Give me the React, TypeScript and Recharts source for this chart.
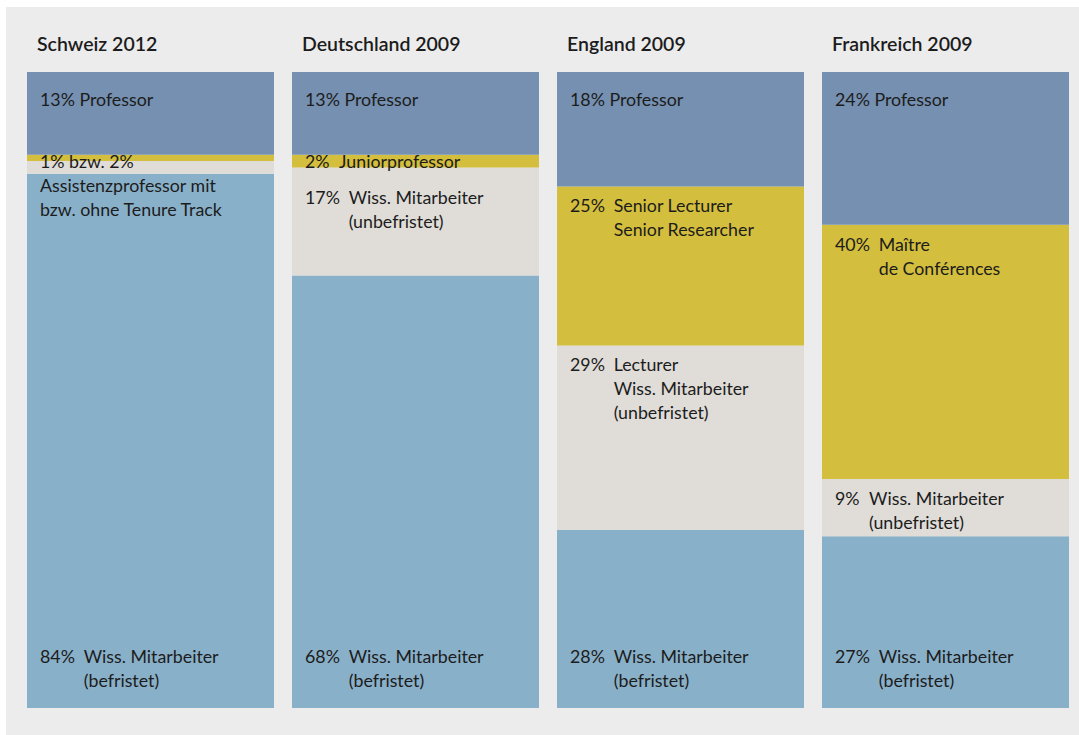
import React from 'react';
import { BarChart, Bar, XAxis, YAxis, LabelList } from 'recharts';

const countries = ['Schweiz 2012', 'Deutschland 2009', 'England 2009', 'Frankreich 2009'];

// shares in percent, stacked bottom -> top: temporary, permanent, middle, professor
const professor = [13, 13, 18, 24];
const middle = [1, 2, 25, 40];
const permanent = [2, 17, 29, 9];
const temporary = [84, 68, 28, 27];

type Lbl = { pct: string; lines: string[]; flush?: boolean } | null;

const professorLabels: Lbl[] = [
  { pct: '13% Professor', lines: [], flush: true },
  { pct: '13% Professor', lines: [], flush: true },
  { pct: '18% Professor', lines: [], flush: true },
  { pct: '24% Professor', lines: [], flush: true },
];
const middleLabels: Lbl[] = [
  { pct: '1% bzw. 2%', lines: ['Assistenzprofessor mit', 'bzw. ohne Tenure Track'], flush: true },
  { pct: '2%', lines: ['Juniorprofessor'] },
  { pct: '25%', lines: ['Senior Lecturer', 'Senior Researcher'] },
  { pct: '40%', lines: ['Maître', 'de Conférences'] },
];
const permanentLabels: Lbl[] = [
  null,
  { pct: '17%', lines: ['Wiss. Mitarbeiter', '(unbefristet)'] },
  { pct: '29%', lines: ['Lecturer', 'Wiss. Mitarbeiter', '(unbefristet)'] },
  { pct: '9%', lines: ['Wiss. Mitarbeiter', '(unbefristet)'] },
];
const temporaryLabels: Lbl[] = [
  { pct: '84%', lines: ['Wiss. Mitarbeiter', '(befristet)'] },
  { pct: '68%', lines: ['Wiss. Mitarbeiter', '(befristet)'] },
  { pct: '28%', lines: ['Wiss. Mitarbeiter', '(befristet)'] },
  { pct: '27%', lines: ['Wiss. Mitarbeiter', '(befristet)'] },
];

const data = countries.map((name, i) => ({
  name,
  professor: professor[i],
  middle: middle[i],
  permanent: permanent[i],
  temporary: temporary[i],
}));

const FONT = 'Lato, "Open Sans", sans-serif';
const TEXT = '#1c1c1c';
const LINE = 24;
const SIZE = 17.8;

const pctWidth = (p: string) => (p.length - 1) * 9.6 + 14.5;

function drawLabel(lbl: Lbl, x: number, base: number, key: string) {
  if (!lbl) return null;
  const x0 = x + 13;
  const descX = x0 + pctWidth(lbl.pct) + 10;
  return (
    <g key={key}>
      <text x={x0} y={base} fontFamily={FONT} fontSize={SIZE} fill={TEXT}>{lbl.pct}</text>
      {lbl.lines.map((l, i) => (
        <text
          key={i}
          x={lbl.flush ? x0 : descX}
          y={lbl.flush ? base + LINE * (i + 1) : base + LINE * i}
          fontFamily={FONT}
          fontSize={SIZE}
          fill={TEXT}
        >
          {l}
        </text>
      ))}
    </g>
  );
}

const box = (p: any) => {
  const v = p.viewBox || {};
  return {
    x: Number(p.x ?? v.x),
    y: Number(p.y ?? v.y),
    width: Number(p.width ?? v.width),
    height: Number(p.height ?? v.height),
    index: p.index as number,
  };
};

const topLabel = (labels: Lbl[], offset: number) => (p: any) => {
  const { x, y, height, index } = box(p);
  return drawLabel(labels[index], x, y + (height < 20 ? 13 : offset), 'l');
};

const permanentLabel = (p: any) => {
  const { x, y, height, index } = box(p);
  const unit = height / permanent[index];
  const midH = middle[index] * unit;
  const midBase = y - midH + (midH < 20 ? 13 : 26);
  const base = Math.max(y + 26, midBase + 36);
  return drawLabel(permanentLabels[index], x, base, 'l');
};

const bottomLabel = (p: any) => {
  const { x, y, height, index } = box(p);
  return drawLabel(temporaryLabels[index], x, y + height - 45, 'l');
};

const TitleTick = (props: any) => {
  const { x, payload } = props;
  return (
    <text x={x - 113.5} y={44} fontFamily={FONT} fontSize={19.5} fontWeight={600} fill={TEXT}>
      {payload.value}
    </text>
  );
};

export default function App() {
  return (
    <div style={{ position: 'absolute', left: 6, top: 7, width: 1073, height: 728, background: '#ececec' }}>
      <BarChart
        width={1073}
        height={728}
        data={data}
        margin={{ top: 35, right: 1, bottom: 27, left: 12 }}
        barSize={247}
      >
        <XAxis
          dataKey="name"
          orientation="top"
          height={30}
          axisLine={false}
          tickLine={false}
          tick={<TitleTick />}
          interval={0}
        />
        <YAxis hide domain={[0, 100]} />
        <Bar dataKey="temporary" stackId="a" fill="#89b0c9" isAnimationActive={false}>
          <LabelList dataKey="temporary" content={bottomLabel} />
        </Bar>
        <Bar dataKey="permanent" stackId="a" fill="#e0dcd8" isAnimationActive={false}>
          <LabelList dataKey="permanent" content={permanentLabel} />
        </Bar>
        <Bar dataKey="middle" stackId="a" fill="#d3be3d" isAnimationActive={false}>
          <LabelList dataKey="middle" content={topLabel(middleLabels, 26)} />
        </Bar>
        <Bar dataKey="professor" stackId="a" fill="#7590b0" isAnimationActive={false}>
          <LabelList dataKey="professor" content={topLabel(professorLabels, 34)} />
        </Bar>
      </BarChart>
    </div>
  );
}
